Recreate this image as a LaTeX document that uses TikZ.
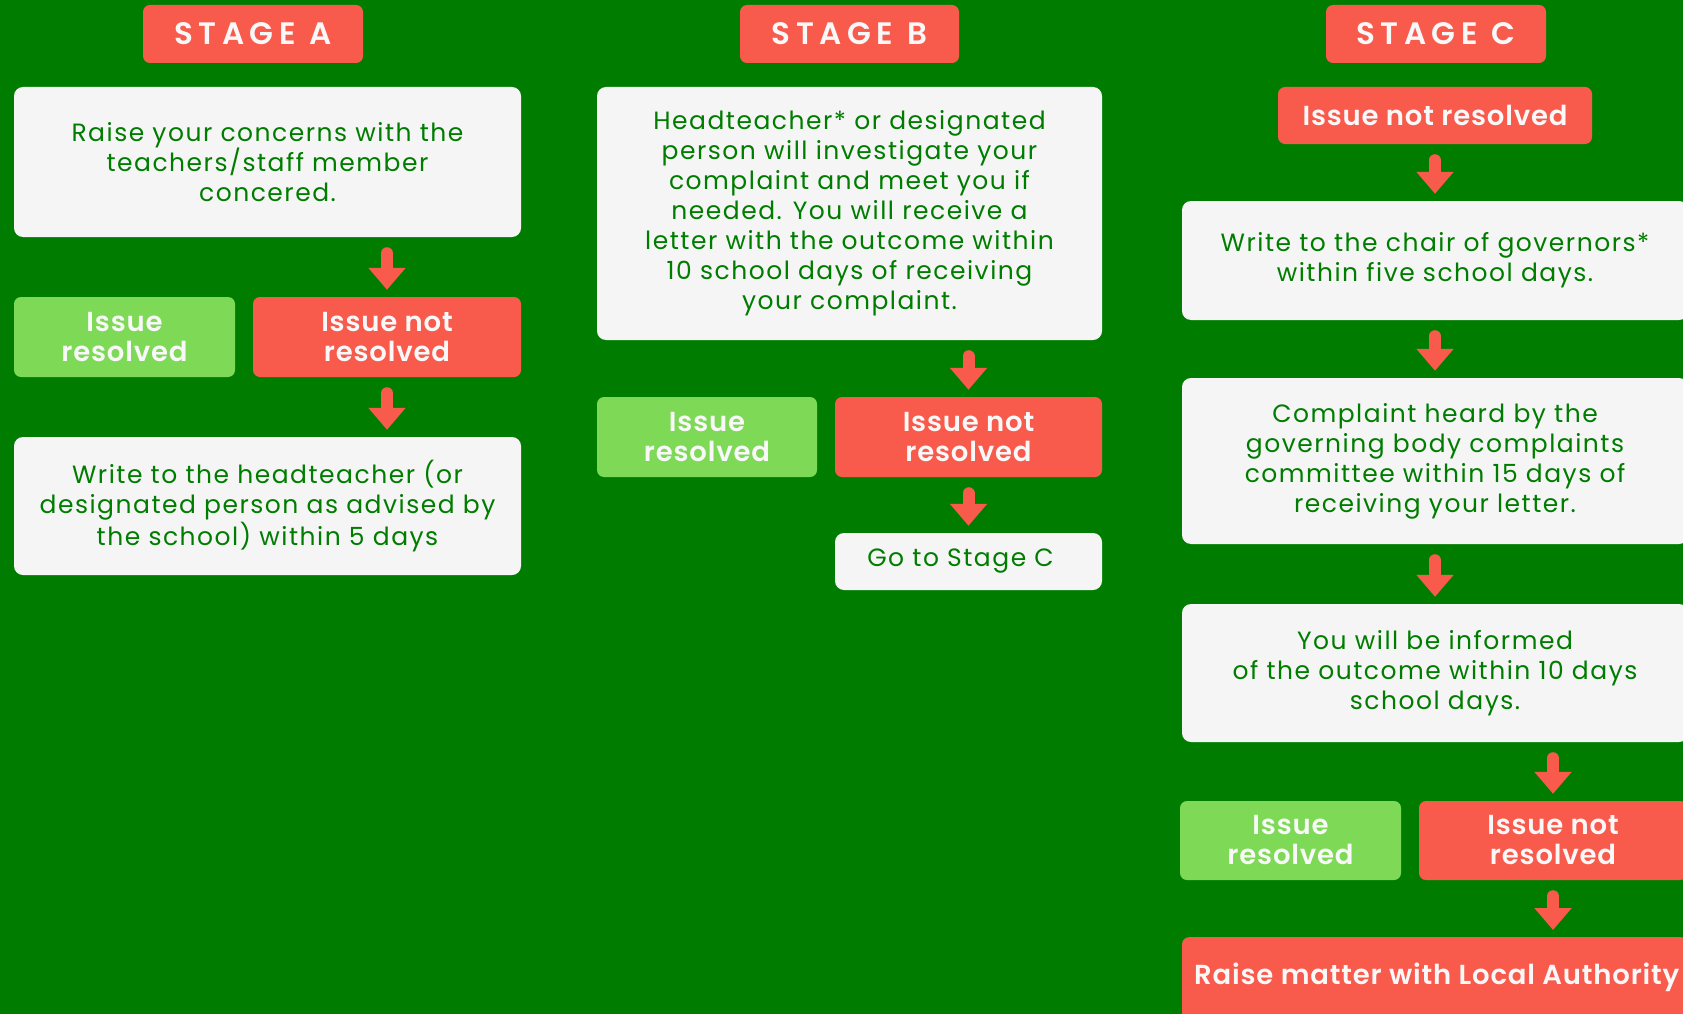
\documentclass[tikz,border=0pt]{standalone}
\usepackage{fontspec}
\setmainfont{Poppins}
\newfontfamily\bodyf[LetterSpace=6]{Poppins}
\IfFontExistsTF{Poppins SemiBold}{%
  \newfontfamily\headf[LetterSpace=3]{Poppins SemiBold}%
  \newfontfamily\titlef[LetterSpace=18]{Poppins SemiBold}%
  \newcommand\hdbold{}}{%
  \newfontfamily\headf[LetterSpace=3]{Poppins}%
  \newfontfamily\titlef[LetterSpace=18]{Poppins}%
  \newcommand\hdbold{\bfseries}}
\usetikzlibrary{arrows.meta}
\definecolor{bgc}{RGB}{0,125,0}
\definecolor{redc}{RGB}{248,90,76}
\definecolor{lgreen}{RGB}{126,217,87}
\definecolor{boxc}{RGB}{245,245,245}
\definecolor{txtg}{RGB}{0,125,0}
\definecolor{wht}{RGB}{248,248,248}
\tikzset{
  wbox/.style={fill=boxc, rounded corners=9pt, inner sep=0pt, align=center, text=txtg,
    font=\bodyf\fontsize{25}{30}\selectfont},
  redb/.style={fill=redc, rounded corners=7pt, inner sep=0pt, align=center, text=wht,
    font=\headf\hdbold\fontsize{27.5}{30}\selectfont},
  grnb/.style={redb, fill=lgreen},
  titleb/.style={redb, font=\titlef\hdbold\fontsize{31}{30}\selectfont},
  arr/.style={draw=redc, line width=12pt, line cap=round, shorten <=16pt, shorten >=7pt,
    -{Triangle[width=36pt,length=22pt]}}
}
\begin{document}
\begin{tikzpicture}[x=1pt,y=-1pt]
\fill[bgc] (0,0) rectangle (1683,1014);
\useasboundingbox (0,0) rectangle (1683,1014);
\clip (0,0) rectangle (1683,1014);
% Stage A
\node[titleb, minimum width=220pt, minimum height=58pt] (tA) at (253,34) {STAGE\hspace{14pt}A};
\node[wbox, minimum width=507pt, minimum height=150pt] (a1) at (267.5,162)
  {Raise your concerns with the\\teachers/staff member\\concered.};
\node[grnb, minimum width=221pt, minimum height=80pt] (rA) at (124.5,337) {Issue\\resolved};
\node[redb, minimum width=268pt, minimum height=80pt] (nA) at (387,337) {Issue not\\resolved};
\node[wbox, minimum width=507pt, minimum height=138pt] (a3) at (267.5,506)
  {Write to the headteacher (or\\designated person as advised by\\the school) within 5 days};
\draw[arr] (a1.south -| nA.north) -- (nA.north);
\draw[arr] (nA.south) -- (a3.north -| nA.south);
% Stage B
\node[titleb, minimum width=219pt, minimum height=58pt] (tB) at (849.5,34) {STAGE\hspace{14pt}B};
\node[wbox, minimum width=505pt, minimum height=253pt] (b1) at (849.5,213.5)
  {Headteacher* or designated\\person will investigate your\\complaint and meet you if\\needed. You will receive a\\letter with the outcome within\\10 school days of receiving\\your complaint.};
\node[grnb, minimum width=220pt, minimum height=80pt] (rB) at (707,437) {Issue\\resolved};
\node[redb, minimum width=267pt, minimum height=80pt] (nB) at (968.5,437) {Issue not\\resolved};
\node[wbox, minimum width=267pt, minimum height=57pt] (gC) at (968.5,561.5) {Go to Stage C\hspace*{16pt}};
\draw[arr] (b1.south -| nB.north) -- (nB.north);
\draw[arr] (nB.south) -- (gC.north);
% Stage C
\node[titleb, minimum width=220pt, minimum height=58pt] (tC) at (1436,34) {STAGE\hspace{14pt}C};
\node[redb, minimum width=314pt, minimum height=57pt] (nC0) at (1435,115.5) {Issue not resolved};
\node[wbox, minimum width=506pt, minimum height=119pt] (c1) at (1435,260.5)
  {Write to the chair of governors*\\within five school days.};
\node[wbox, minimum width=506pt, minimum height=166pt] (c2) at (1435,461)
  {Complaint heard by the\\governing body complaints\\committee within 15 days of\\receiving your letter.};
\node[wbox, minimum width=506pt, minimum height=138pt] (c3) at (1435,673)
  {You will be informed\\of the outcome within 10 days\\school days.};
\node[grnb, minimum width=221pt, minimum height=79pt] (rC) at (1290.5,840.5) {Issue\\resolved};
\node[redb, minimum width=268pt, minimum height=79pt] (nC) at (1553,840.5) {Issue not\\resolved};
\node[redb, minimum width=506pt, minimum height=90pt, anchor=north] (la) at (1435,937) {};
\node[anchor=west, text=wht, font=\headf\hdbold\fontsize{27.5}{30}\selectfont, inner sep=0pt] (lat) at (1194,977) {Raise matter with Local Authority};
\draw[arr] (nC0.south) -- (c1.north);
\draw[arr] (c1.south) -- (c2.north);
\draw[arr] (c2.south) -- (c3.north);
\draw[arr] (c3.south -| nC.north) -- (nC.north);
\draw[arr] (nC.south) -- (la.north -| nC.south);
\end{tikzpicture}
\end{document}
